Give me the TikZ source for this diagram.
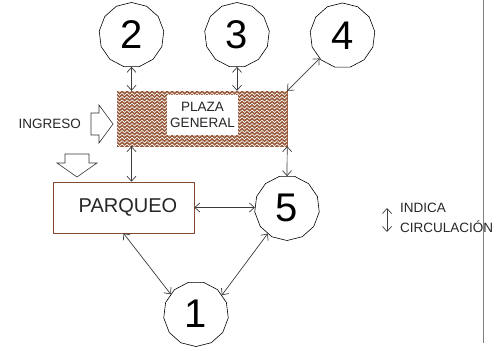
\documentclass[tikz,border=0pt]{standalone}
\usepackage{fontspec}
\setmainfont{Liberation Sans}
\usetikzlibrary{shapes.geometric, positioning, arrows.meta, decorations.pathmorphing}

\definecolor{plazaBrown}{RGB}{150,88,56}
\definecolor{lineGray}{RGB}{60,60,60}

\begin{document}
\begin{tikzpicture}[
        x=1pt, y=-1pt,
        % Style for the numbered zones
        zoneNode/.style={
            regular polygon, regular polygon sides=13, draw=black,
            line width=0.6pt, minimum size=65pt, inner sep=0pt,
            font=\fontsize{40}{40}\selectfont
        },
        % Style for the patterned plaza
        plazaBox/.style={
            rectangle, draw=plazaBrown, fill=plazaBrown,
            minimum width=170pt, minimum height=55pt
        },
        plazaLabel/.style={
            rectangle, fill=white, align=center, inner sep=0pt,
            minimum width=71pt, minimum height=40pt,
            font=\fontsize{13.5}{15.5}\selectfont, text=black!85
        },
        % Style for the parking block
        parkBox/.style={
            rectangle, draw=plazaBrown!85!black, line width=0.6pt,
            minimum width=141pt, minimum height=51pt,
            font=\fontsize{20}{20}\selectfont, text=black!85
        },
        smallText/.style={font=\fontsize{13.5}{13.5}\selectfont, text=black!85, inner sep=0pt},
        zigzagLine/.style={draw=white, line width=0.65pt, decorate,
            decoration={zigzag, segment length=5pt, amplitude=1.2pt}},
        blockArrow/.style={draw=black!80, line width=0.6pt, fill=white},
        line/.style={draw=lineGray, line width=0.7pt,
            {Straight Barb[length=5pt, width=9pt]}-{Straight Barb[length=5pt, width=9pt]}}
    ]
        \useasboundingbox (0,0) rectangle (502,350);

        % --- Nodes ---

        % 1. The numbered zones
        \node [zoneNode] (z2) at (131.5,35) {2};
        \node [zoneNode] (z3) at (237,35) {3};
        \node [zoneNode] (z4) at (342.5,35.5) {4};
        \node [zoneNode, shape border rotate=180] (z5) at (287,208) {5};
        \node [zoneNode, shape border rotate=180] (z1) at (196,314) {1};

        % 2. The plaza with its pattern
        \node [plazaBox] (plaza) at (202,118.5) {};
        \begin{scope}
            \clip (plaza.north west) rectangle (plaza.south east);
            \foreach \k in {0,...,17}
                \path [zigzagLine] ([xshift=-6pt, yshift=-\k*3.4pt]plaza.north west)
                    -- ([xshift=6pt, yshift=-\k*3.4pt]plaza.north east);
        \end{scope}
        \node [plazaLabel] (plazaText) at (202.5,115) {PLAZA\\GENERAL};

        % 3. Parking
        \node [parkBox] (parqueo) at (123.5,207.5) {\hspace*{9pt}PARQUEO};

        % 4. Entry arrows
        \node [smallText, anchor=east] (ingreso) at (81,124) {INGRESO};
        \path [blockArrow] (91,113) -- (99,113) -- (99,105) -- (113,124)
            -- (99,143) -- (99,135) -- (91,135) -- cycle;
        \path [blockArrow] (65,154) -- (89,154) -- (89,163) -- (97,163)
            -- (77,177) -- (57,163) -- (65,163) -- cycle;

        % 5. Legend
        \node [smallText, anchor=base west] (legendA) at (400,212) {INDICA};
        \node [smallText, anchor=base west] (legendB) at (400,232) {CIRCULACIÓN};
        \coordinate (legTop) at (387,208);
        \coordinate (legBot) at (387,232);
        \coordinate (sepTop) at (483,0);
        \coordinate (sepBot) at (483,343);

        % --- Edges (circulation) ---
        \path [line] (z2.south) -- (z2.south |- plaza.north);
        \path [line] (z3.south) -- (z3.south |- plaza.north);
        \path [line] (plaza.north east) -- (z4.225);
        \path [line] (z2.south |- plaza.south) -- (z2.south |- parqueo.north);
        \path [line] (plaza.south east) -- (z5.north);
        \path [line] (parqueo.east) -- (z5.west |- parqueo.east);
        \path [line] (parqueo.south) -- (z1.142);
        \path [line] (z5.233) -- (z1.36);
        \path [line] (legTop) -- (legBot);

        % Separator on the right
        \draw [gray, line width=1pt] (sepTop) -- (sepBot);

    \end{tikzpicture}
\end{document}
